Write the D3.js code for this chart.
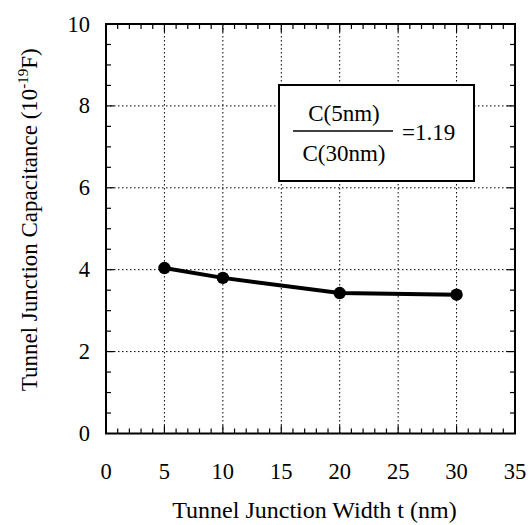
<!DOCTYPE html>
<html>
<head>
    <meta charset="UTF-8">
    <title>Tunnel Junction Capacitance</title>
    <script src="https://d3js.org/d3.v7.min.js"></script>
</head>
<body style="margin:0">
    <script>
        // data
        const widths = [5, 10, 20, 30];
        const capacitance = [4.04, 3.80, 3.43, 3.39];
        const xTicks = [0, 5, 10, 15, 20, 25, 30, 35];
        const yTicks = [0, 2, 4, 6, 8, 10];
        const xGrid = [5, 10, 15, 20, 25, 30];
        const yGrid = [2, 4, 6, 8];

        const FONT = "Liberation Serif";
        const W = 532, H = 525;
        const margin = { top: 24, right: 17, bottom: 91.5, left: 106 };
        const width = W - margin.left - margin.right,
              height = H - margin.top - margin.bottom;

        const x = d3.scaleLinear().domain([0, 35]).range([0, width]);
        const y = d3.scaleLinear().domain([0, 10]).range([height, 0]);

        const svg = d3.select("body").append("svg")
            .attr("width", W)
            .attr("height", H);

        const g = svg.append("g")
            .attr("transform", `translate(${margin.left},${margin.top})`);

        function label(sel, size) {
            return sel.append("text")
                .attr("font-family", FONT)
                .attr("font-size", size)
                .attr("fill", "#000");
        }

        // dotted grid
        const grid = g.append("g")
            .attr("stroke", "#000").attr("stroke-width", 1)
            .attr("stroke-dasharray", "1.5 2.5");
        grid.selectAll("line.gx").data(xGrid).enter().append("line")
            .attr("x1", d => x(d)).attr("x2", d => x(d))
            .attr("y1", 0).attr("y2", height);
        grid.selectAll("line.gy").data(yGrid).enter().append("line")
            .attr("y1", d => y(d)).attr("y2", d => y(d))
            .attr("x1", 0).attr("x2", width);

        // minor ticks, pointing inward on all four sides
        const xMinor = d3.range(1, 35);
        const yMinor = d3.range(0.5, 10, 0.5);
        const ticks = g.append("g").attr("stroke", "#000").attr("stroke-width", 1.2);
        xMinor.forEach(v => {
            const len = v % 5 === 0 ? 8 : 5;
            ticks.append("line").attr("x1", x(v)).attr("x2", x(v)).attr("y1", height).attr("y2", height - len);
            ticks.append("line").attr("x1", x(v)).attr("x2", x(v)).attr("y1", 0).attr("y2", len);
        });
        yMinor.forEach(v => {
            const len = v % 2 === 0 ? 8 : 5;
            ticks.append("line").attr("y1", y(v)).attr("y2", y(v)).attr("x1", 0).attr("x2", len);
            ticks.append("line").attr("y1", y(v)).attr("y2", y(v)).attr("x1", width).attr("x2", width - len);
        });

        // frame
        g.append("rect")
            .attr("width", width).attr("height", height)
            .attr("fill", "none").attr("stroke", "#000").attr("stroke-width", 2);

        // tick labels
        xTicks.forEach(d => {
            label(g, 22.5).attr("x", x(d)).attr("y", height + 45)
                .attr("text-anchor", "middle").text(d);
        });
        yTicks.forEach(d => {
            label(g, 22.5).attr("x", -16).attr("y", y(d) + 7.5)
                .attr("text-anchor", "end").text(d);
        });

        // axis titles
        label(g, 24)
            .attr("x", width / 2 + 4).attr("y", height + 84)
            .attr("text-anchor", "middle")
            .text("Tunnel Junction Width t (nm)");

        const yt = label(g, 23)
            .attr("transform", `translate(-69,${height / 2 - 9}) rotate(-90)`)
            .attr("text-anchor", "middle");
        yt.append("tspan").text("Tunnel Junction Capacitance (10");
        yt.append("tspan").attr("dy", -9).attr("font-size", 15).text("-19");
        yt.append("tspan").attr("dy", 9).text("F)");

        // data line and markers
        const pts = widths.map((w, i) => [w, capacitance[i]]);
        g.append("path")
            .datum(pts)
            .attr("fill", "none").attr("stroke", "#000").attr("stroke-width", 4)
            .attr("d", d3.line().x(d => x(d[0])).y(d => y(d[1])));
        g.selectAll("circle").data(pts).enter().append("circle")
            .attr("cx", d => x(d[0])).attr("cy", d => y(d[1]))
            .attr("r", 6.2).attr("fill", "#000");

        // ratio box
        const box = svg.append("g").attr("transform", "translate(279,85)");
        box.append("rect")
            .attr("width", 195).attr("height", 96)
            .attr("fill", "#fff").attr("stroke", "#000").attr("stroke-width", 2);
        label(box, 23).attr("x", 65).attr("y", 36)
            .attr("text-anchor", "middle").text("C(5nm)");
        box.append("line").attr("x1", 14).attr("x2", 114).attr("y1", 46).attr("y2", 46)
            .attr("stroke", "#000").attr("stroke-width", 1.5);
        label(box, 23).attr("x", 65).attr("y", 76)
            .attr("text-anchor", "middle").text("C(30nm)");
        label(box, 23).attr("x", 123).attr("y", 55).text("=1.19");
    </script>
</body>
</html>
